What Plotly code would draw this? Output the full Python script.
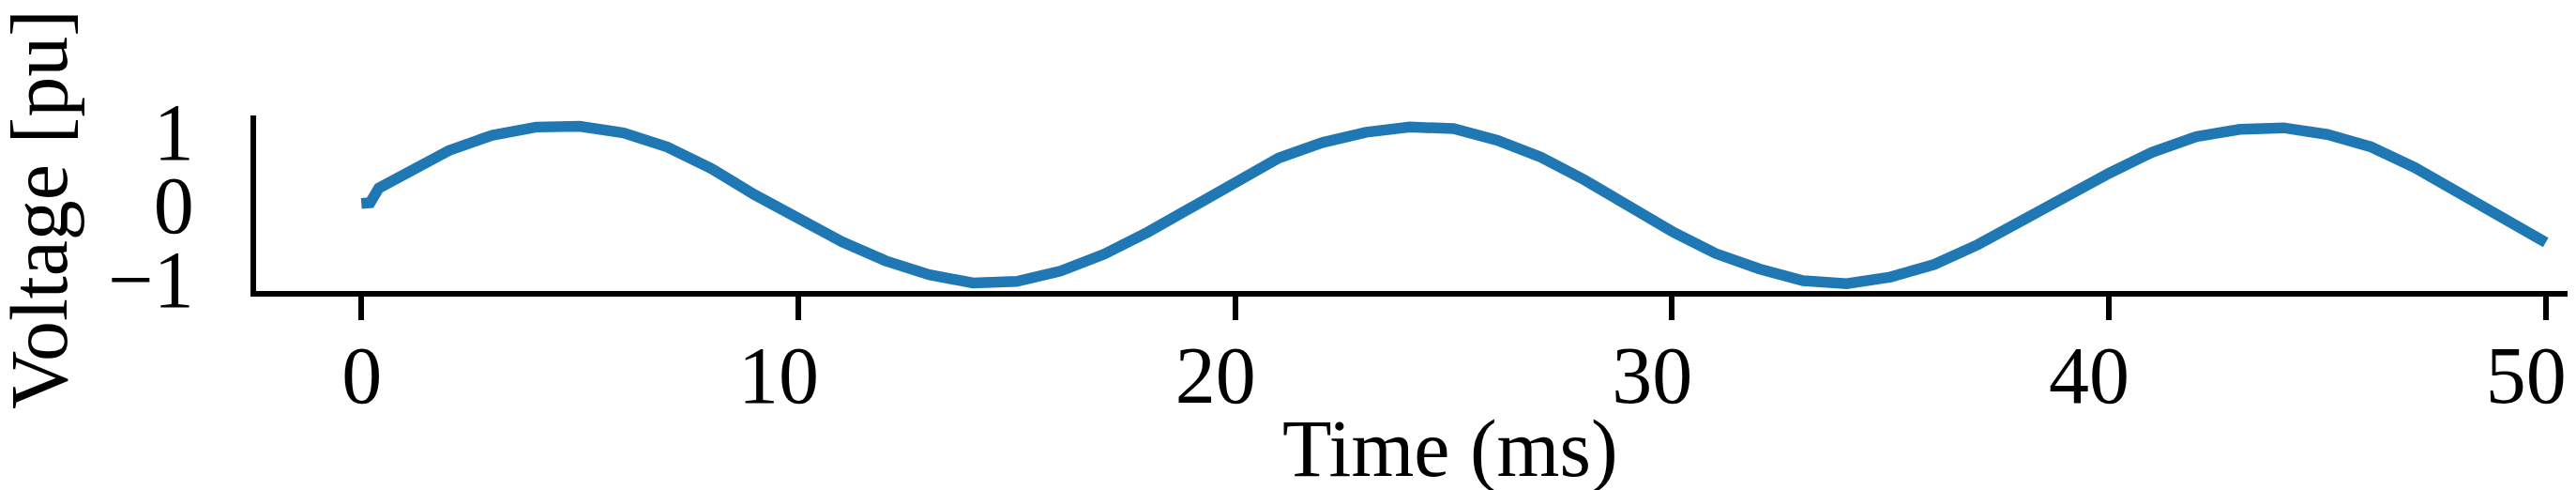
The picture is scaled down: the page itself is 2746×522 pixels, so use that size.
import plotly.graph_objects as go

# ========== Data ==========

time_ms = [0, 0.2, 0.4,
           1, 2, 3, 4, 5, 6, 7, 8, 9, 10,
           11, 12, 13, 14, 15, 16, 17, 18, 19, 20,
           21, 22, 23, 24, 25, 26, 27, 28, 29, 30,
           31, 32, 33, 34, 35, 36, 37, 38, 39, 40,
           41, 42, 43, 44, 45, 46, 47, 48, 49, 50]

voltage_pu = [0.02, 0.03, 0.23,
              0.43, 0.74, 0.95, 1.06, 1.07, 0.98, 0.79, 0.50, 0.14, -0.20,
              -0.50, -0.76, -0.95, -1.06, -1.04, -0.90, -0.67, -0.37, -0.02, 0.32,
              0.64, 0.85, 0.99, 1.06, 1.04, 0.88, 0.65, 0.34, -0.01, -0.36,
              -0.66, -0.87, -1.03, -1.07, -0.98, -0.81, -0.54, -0.21, 0.12, 0.43,
              0.72, 0.93, 1.03, 1.05, 0.96, 0.79, 0.51, 0.17, -0.19, -0.51]

x_ticks = [0, 10, 20, 30, 40, 50]
# two-digit labels sit half a digit left of their tick in the reference,
# the single "0" does not -> pad it with an en space and shift all labels
x_tick_text = ["\u20020", "10", "20", "30", "40", "50"]
y_ticks = [-1, 0, 1]

FONT = "Liberation Serif, Times New Roman, serif"
FONT_SIZE = 86

# ========== Figure ==========

fig = go.Figure()
fig.add_trace(go.Scatter(
    x=time_ms,
    y=voltage_pu,
    mode="lines",
    line=dict(color="#1f77b4", width=11.5),
    showlegend=False,
))

fig.update_layout(
    width=2746,
    height=522,
    margin=dict(l=273, r=9, t=123, b=212, autoexpand=False),
    paper_bgcolor="white",
    plot_bgcolor="white",
    font=dict(family=FONT, size=FONT_SIZE, color="black"),
)

fig.update_xaxes(
    range=[-2.41, 50.5],
    tickvals=x_ticks,
    ticktext=x_tick_text,
    automargin=False,
    showgrid=False,
    zeroline=False,
    showline=True,
    linecolor="black",
    linewidth=6.3,
    ticks="outside",
    ticklen=25,
    tickwidth=6.3,
    tickcolor="black",
    ticklabelstandoff=-15,
    ticklabelshift=-21,
    tickfont=dict(family=FONT, size=FONT_SIZE, color="black"),
)

fig.update_yaxes(
    range=[-1.17, 1.218],
    tickvals=y_ticks,
    automargin=False,
    showgrid=False,
    zeroline=False,
    showline=True,
    linecolor="black",
    linewidth=6.3,
    ticks="",
    ticklabelstandoff=43,
    tickfont=dict(family=FONT, size=FONT_SIZE, color="black"),
)

# axis titles as annotations so they sit where the reference puts them
fig.add_annotation(
    text="Time (ms)",
    xref="paper", yref="paper",
    x=0.5166, y=-0.896,
    xanchor="center", yanchor="middle",
    showarrow=False,
    font=dict(family=FONT, size=FONT_SIZE, color="black"),
)
fig.add_annotation(
    text="Voltage [pu]",
    xref="paper", yref="paper",
    x=-0.0938, y=0.464,
    xanchor="center", yanchor="middle",
    textangle=-90,
    showarrow=False,
    font=dict(family=FONT, size=FONT_SIZE, color="black"),
)

# drop the browser's default body margin so the figure fills the window
fig.write_html(
    "out.html",
    config={"displayModeBar": False},
    post_script="document.body.style.margin='0';",
)
